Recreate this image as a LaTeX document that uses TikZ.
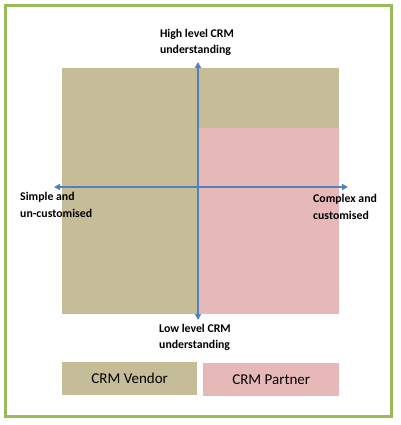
\documentclass[tikz,border=0pt]{standalone}
\usepackage{fontspec}
\setmainfont{Carlito}
\usetikzlibrary{arrows.meta}
\definecolor{tanc}{HTML}{C4BD97}
\definecolor{pinkc}{HTML}{E6B9B8}
\definecolor{axisc}{HTML}{4F81BD}
\definecolor{framec}{HTML}{9BBB59}
\begin{document}
\begin{tikzpicture}[x=1pt,y=-1pt,
  axis/.style={draw=axisc,line width=1.6pt,-{Triangle[width=6pt,length=6pt]}},
  lab/.style={font=\fontsize{11.8}{16.5}\selectfont\bfseries,align=left,inner sep=0pt},
  legend/.style={font=\fontsize{15}{17}\selectfont,inner sep=0pt,draw=none}]
\useasboundingbox (0,0) rectangle (400,425);
\draw[framec,line width=3pt] (5.5,5.5) rectangle (391.5,416.5);
\fill[tanc] (62,68) rectangle (339,314);
\fill[pinkc] (198,128) rectangle (339,314);
\coordinate (c) at (198,187);
\coordinate (top) at (198,62);
\coordinate (bot) at (198,320);
\coordinate (lft) at (54,187);
\coordinate (rgt) at (348,187);
\draw[axis] (c) -- (top);
\draw[axis] (c) -- (bot);
\draw[axis] (c) -- (lft);
\draw[axis] (c) -- (rgt);
\node[lab,anchor=center] (high) at (197,42.5) {High level CRM\\understanding};
\node[lab,anchor=west] (simple) at (20,205) {Simple and\\un-customised};
\node[lab,anchor=west] (complex) at (313,207) {Complex and\\customised};
\node[lab,anchor=west] (low) at (159,337.5) {Low level CRM\\understanding};
\node[legend,fill=tanc,minimum width=135pt,minimum height=33pt,anchor=north west] (vendor) at (62,362) {CRM Vendor};
\node[legend,fill=pinkc,minimum width=136pt,minimum height=33pt,anchor=north west] (partner) at (203,363) {CRM Partner};
\end{tikzpicture}
\end{document}
